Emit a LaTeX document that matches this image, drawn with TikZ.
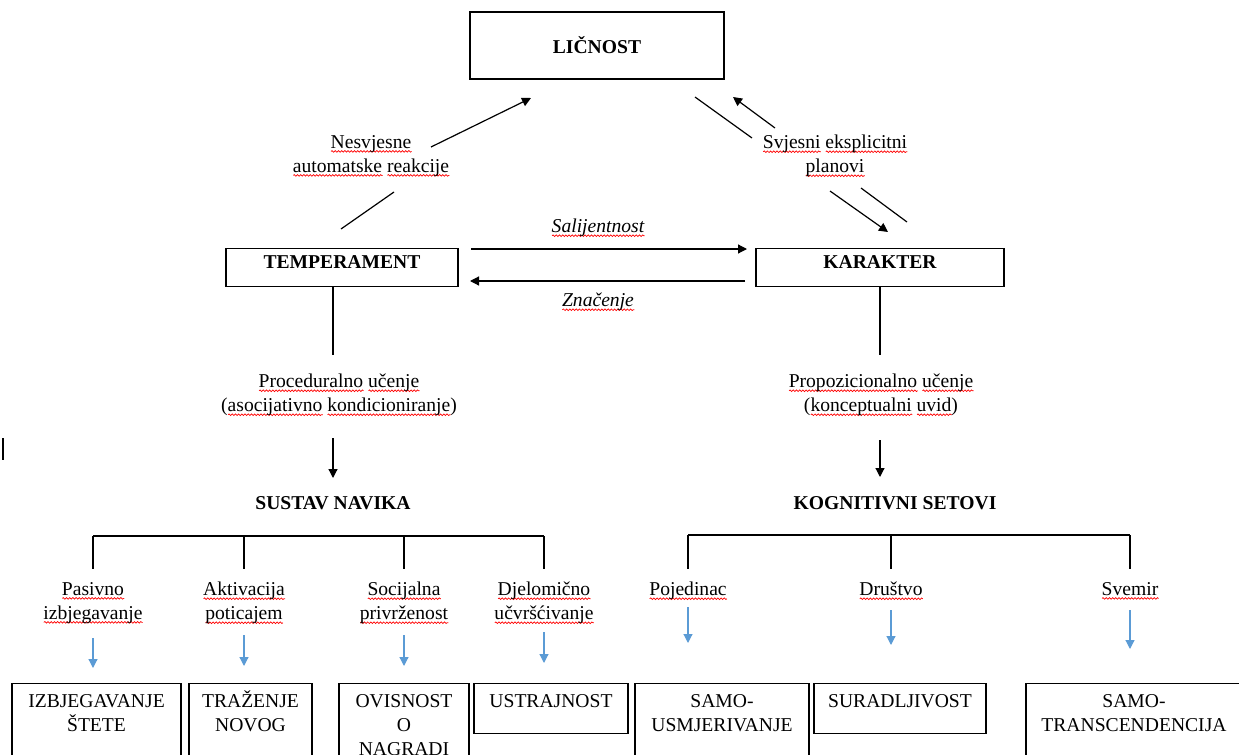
\documentclass[tikz,border=0pt]{standalone}
\usepackage{fontspec}
\setmainfont{Liberation Serif}
\usetikzlibrary{positioning}
\usetikzlibrary{arrows.meta}
\usetikzlibrary{decorations.pathmorphing}

\definecolor{wordblue}{RGB}{91,155,213}
\newsavebox\spellbox
\newlength\spellwd
\newcommand\spellmark[1]{\sbox\spellbox{#1}\setlength\spellwd{\wd\spellbox}%
	\rlap{\tikz[baseline=0pt]\draw[red,line width=0.35pt,decorate,decoration={snake,amplitude=0.4pt,segment length=1.6pt}] (0pt,-1.5pt) -- (\spellwd,-1.5pt);}\usebox\spellbox}

\begin{document}
\begin{tikzpicture}[x=0.5pt,y=-0.5pt,>={Triangle[length=4.5pt,width=4.5pt]},
	line width=0.6pt,every node/.style={font=\fontsize{9.8}{12}\selectfont},
	main node/.style={draw,anchor=north,align=center,inner xsep=1pt,inner ysep=2.75pt,text height=7pt},
	leaf node/.style={main node,inner ysep=4.75pt},
	caption node/.style={align=center,inner sep=1pt},
	blue arrow/.style={->,draw=wordblue}]
	\useasboundingbox (0,0) rectangle (1239,755);
	\clip (0,0) rectangle (1239,755);

	\node[draw,minimum width=127pt,minimum height=33.5pt] (lic) at (597,45.5) {\bfseries LIČNOST};
	\node[main node,minimum width=116pt,text depth=6.5pt] (temp) at (342,248) {\bfseries TEMPERAMENT};
	\node[main node,minimum width=124pt,text depth=6.5pt] (kar) at (880,248) {\bfseries KARAKTER};

	\node[caption node] (nes) at (371,156) {\spellmark{Nesvjesne}\\\spellmark{automatske} \spellmark{reakcije}};
	\node[caption node] (svj) at (835,156) {\spellmark{Svjesni} \spellmark{eksplicitni}\\\spellmark{planovi}};
	\node[caption node] (sal) at (598,228) {\itshape\spellmark{Salijentnost}};
	\node[caption node] (zna) at (598,302) {\itshape\spellmark{Značenje}};

	\node[caption node] (proc) at (339,395) {\spellmark{Proceduralno} \spellmark{učenje}\\(\spellmark{asocijativno} \spellmark{kondicioniranje})};
	\node[caption node] (prop) at (881,395) {\spellmark{Propozicionalno} \spellmark{učenje}\\(\spellmark{konceptualni} \spellmark{uvid})};
	\node[caption node] (sust) at (333,503) {\bfseries SUSTAV NAVIKA};
	\node[caption node] (kog) at (895,503) {\bfseries KOGNITIVNI SETOVI};

	\node[caption node] (pas) at (93,603) {\spellmark{Pasivno}\\\spellmark{izbjegavanje}};
	\node[caption node] (akt) at (244,603) {\spellmark{Aktivacija}\\\spellmark{poticajem}};
	\node[caption node] (soc) at (404,603) {\spellmark{Socijalna}\\\spellmark{privrženost}};
	\node[caption node] (dje) at (544,603) {\spellmark{Djelomično}\\\spellmark{učvršćivanje}};
	\node[caption node] (poj) at (688,591) {\spellmark{Pojedinac}};
	\node[caption node] (dru) at (891,591) {\spellmark{Društvo}};
	\node[caption node] (svm) at (1130,591) {\spellmark{Svemir}};

	\node[leaf node,minimum width=84.5pt,text height=19pt,text depth=28pt] (izb) at (96.5,683) {IZBJEGAVANJE\\ŠTETE};
	\node[leaf node,minimum width=61.5pt,text height=19pt,text depth=28pt] (tra) at (250.5,683) {TRAŽENJE\\NOVOG};
	\node[leaf node,minimum width=65pt,text height=31pt,text depth=16pt] (ovi) at (404,683) {OVISNOST\\O\\NAGRADI};
	\node[leaf node,minimum width=77pt,text depth=8.5pt] (ust) at (551,683) {USTRAJNOST};
	\node[leaf node,minimum width=87pt,text height=19pt,text depth=28pt] (usm) at (722,683) {SAMO-\\USMJERIVANJE};
	\node[leaf node,minimum width=86pt,text depth=8.5pt] (sur) at (900,683) {SURADLJIVOST};
	\node[leaf node,minimum width=108pt,text height=19pt,text depth=28pt] (tsc) at (1134,683) {SAMO-\\TRANSCENDENCIJA};

	\coordinate (n1) at (431,147);
	\coordinate (n2) at (531,98);
	\coordinate (n3) at (341,229);
	\coordinate (n4) at (394,192);
	\coordinate (s1) at (695,97);
	\coordinate (s2) at (752,138);
	\coordinate (s3) at (775,128);
	\coordinate (s4) at (733,97);
	\coordinate (s5) at (830,191);
	\coordinate (s6) at (888,232);
	\coordinate (s7) at (861,188);
	\coordinate (s8) at (907,222);
	\coordinate (h1) at (471,249);
	\coordinate (h2) at (747,249);
	\coordinate (h3) at (745,281);
	\coordinate (h4) at (470,281);
	\coordinate (brl) at (0,536);
	\coordinate (brr) at (0,535);

	\draw[->] (n1) -- (n2);
	\draw (n3) -- (n4);
	\draw (s1) -- (s2);
	\draw[->] (s3) -- (s4);
	\draw[->] (s5) -- (s6);
	\draw (s7) -- (s8);
	\draw[->] (h1) -- (h2);
	\draw[->] (h3) -- (h4);

	\draw (temp.south -| sust) -- (sust |- 0,355);
	\draw (kar.south) -- (kar |- 0,355);
	\draw[->] (sust |- 0,438) -- (sust |- 0,478);
	\draw[->] (kar |- 0,440) -- (kar |- 0,477);

	\draw (pas |- brl) -- (dje |- brl);
	\foreach \n in {pas,akt,soc,dje}
		\draw (\n |- brl) -- ++(0,33);
	\draw (poj |- brr) -- (svm |- brr);
	\foreach \n in {poj,dru,svm}
		\draw (\n |- brr) -- ++(0,34);

	\foreach \n/\a/\b in {pas/638/668,akt/635/666,soc/635/666,dje/632/663,poj/607/643,dru/610/645,svm/610/649}
		\draw[blue arrow] (\n |- 0,\a) -- (\n |- 0,\b);

	\draw[line width=0.9pt] (3,438) -- (3,460);
\end{tikzpicture}
\end{document}
